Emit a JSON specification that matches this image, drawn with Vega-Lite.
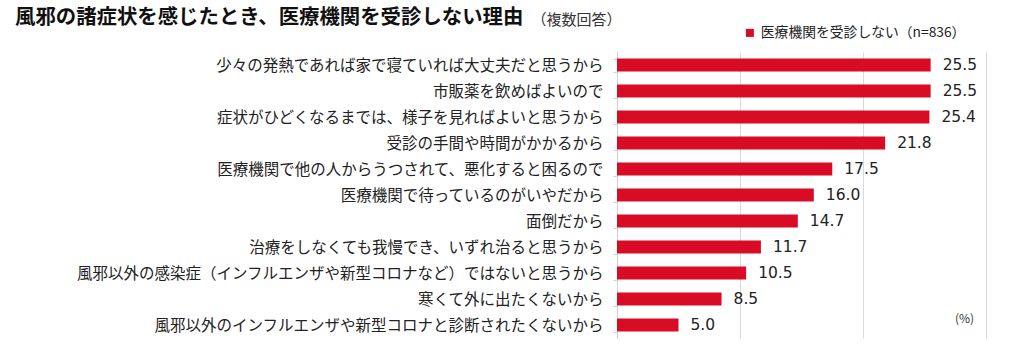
{
  "$schema": "https://vega.github.io/schema/vega-lite/v6.json",
  "autosize": "none",
  "width": 369,
  "height": 286,
  "padding": {"left": 617, "top": 52, "right": 38, "bottom": 24},
  "background": "white",
  "title": {
    "text": "風邪の諸症状を感じたとき、医療機関を受診しない理由",
    "anchor": "start",
    "frame": "group",
    "dx": -602,
    "dy": 20,
    "font": "Noto Sans CJK JP",
    "fontSize": 20.4,
    "fontWeight": "bold",
    "color": "#111111"
  },
  "data": {
    "values": [
      {"reason": "少々の発熱であれば家で寝ていれば大丈夫だと思うから", "value": 25.5, "series": "医療機関を受診しない（n=836）"},
      {"reason": "市販薬を飲めばよいので", "value": 25.5, "series": "医療機関を受診しない（n=836）"},
      {"reason": "症状がひどくなるまでは、様子を見ればよいと思うから", "value": 25.4, "series": "医療機関を受診しない（n=836）"},
      {"reason": "受診の手間や時間がかかるから", "value": 21.8, "series": "医療機関を受診しない（n=836）"},
      {"reason": "医療機関で他の人からうつされて、悪化すると困るので", "value": 17.5, "series": "医療機関を受診しない（n=836）"},
      {"reason": "医療機関で待っているのがいやだから", "value": 16.0, "series": "医療機関を受診しない（n=836）"},
      {"reason": "面倒だから", "value": 14.7, "series": "医療機関を受診しない（n=836）"},
      {"reason": "治療をしなくても我慢でき、いずれ治ると思うから", "value": 11.7, "series": "医療機関を受診しない（n=836）"},
      {"reason": "風邪以外の感染症（インフルエンザや新型コロナなど）ではないと思うから", "value": 10.5, "series": "医療機関を受診しない（n=836）"},
      {"reason": "寒くて外に出たくないから", "value": 8.5, "series": "医療機関を受診しない（n=836）"},
      {"reason": "風邪以外のインフルエンザや新型コロナと診断されたくないから", "value": 5.0, "series": "医療機関を受診しない（n=836）"}
    ]
  },
  "encoding": {
    "y": {
      "field": "reason",
      "type": "nominal",
      "sort": null,
      "scale": {"paddingInner": 0.5, "paddingOuter": 0.25},
      "axis": {
        "title": null,
        "labelFont": "Noto Sans CJK JP",
        "labelFontSize": 15.5,
        "labelColor": "#222222",
        "labelPadding": 10,
        "labelLimit": 600,
        "tickBand": "extent",
        "tickSize": 4,
        "tickColor": "#d0d0d0",
        "domainColor": "#d0d0d0",
        "grid": false
      }
    },
    "x": {
      "field": "value",
      "type": "quantitative",
      "scale": {"domain": [0, 30], "nice": false},
      "axis": {
        "values": [0, 10, 20, 30],
        "labels": false,
        "ticks": false,
        "domain": false,
        "grid": true,
        "gridColor": "#d9d9d9",
        "title": "(%)",
        "titleFont": "Noto Sans CJK JP",
        "titleFontSize": 12,
        "titleFontWeight": "normal",
        "titleColor": "#333333",
        "titleX": 347,
        "titleY": -20,
        "titleAlign": "center",
        "titleBaseline": "middle"
      }
    }
  },
  "layer": [
    {
      "mark": {"type": "bar", "color": "#d80c24"},
      "encoding": {
        "color": {
          "field": "series",
          "type": "nominal",
          "scale": {"range": ["#d80c24"]},
          "legend": {
            "title": null,
            "orient": "none",
            "legendX": 126,
            "legendY": -26,
            "padding": 0,
            "symbolType": "square",
            "symbolSize": 64,
            "symbolStrokeWidth": 0,
            "labelFont": "Noto Sans CJK JP",
            "labelFontSize": 13.8,
            "labelColor": "#222222",
            "labelOffset": 4,
            "labelLimit": 400
          }
        }
      }
    },
    {
      "mark": {
        "type": "text",
        "align": "left",
        "baseline": "middle",
        "dx": 12,
        "font": "DejaVu Sans",
        "fontSize": 15.5,
        "color": "#222222"
      },
      "encoding": {
        "text": {"field": "value", "type": "quantitative", "format": ".1f"},
        "x": {
          "field": "value",
          "type": "quantitative",
          "axis": {
            "orient": "top",
            "labels": false,
            "ticks": false,
            "domain": false,
            "grid": false,
            "title": "（複数回答）",
            "titleFont": "Noto Sans CJK JP",
            "titleFontSize": 15,
            "titleFontWeight": "normal",
            "titleColor": "#333333",
            "titleX": -86,
            "titleY": -33,
            "titleAlign": "left",
            "titleBaseline": "middle"
          }
        }
      }
    }
  ],
  "resolve": {"axis": {"x": "independent"}},
  "config": {"view": {"stroke": null}}
}
